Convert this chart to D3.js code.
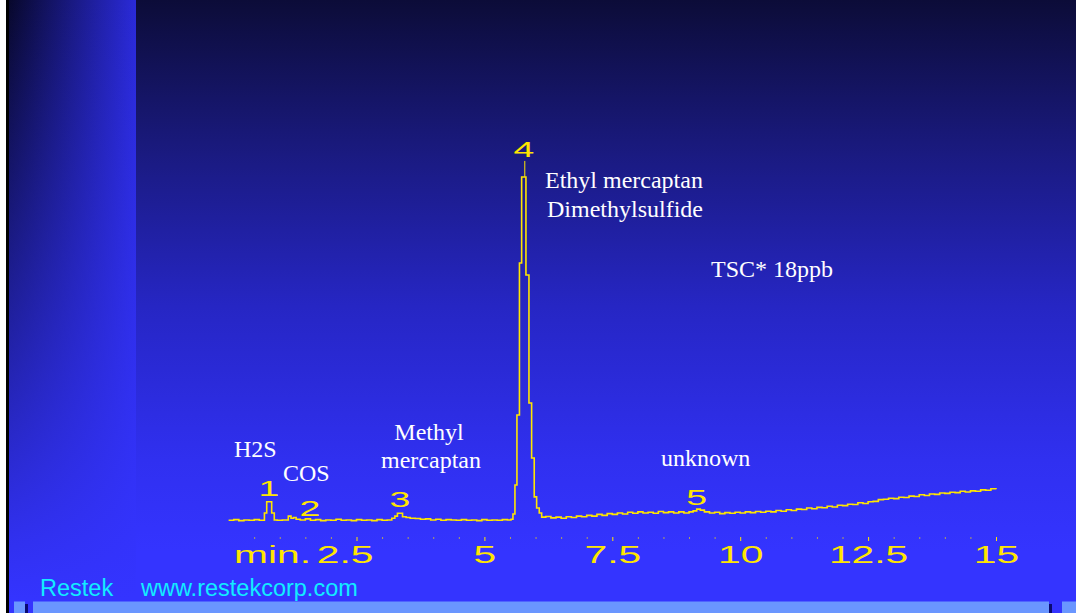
<!DOCTYPE html>
<html>
<head>
<meta charset="utf-8">
<script src="https://cdn.jsdelivr.net/npm/d3@7"></script>
<style>
  html, body { margin: 0; padding: 0; background: #3333ff; }
  svg { display: block; }
</style>
</head>
<body>
<svg id="chart" width="1076" height="613"></svg>
<script>
// ---- DATA ----
// [retention time (min), detector signal (relative %)]
const trace = [
  [0.00,0.2],[0.10,0.4],[0.20,0.1],[0.30,0.3],[0.40,0.2],[0.50,0.4],[0.60,0.2],
  [0.70,2.3],[0.745,5.5],[0.842,2.3],[0.893,0.3],[0.95,0.2],[1.05,0.3],
  [1.167,1.4],[1.22,0.8],[1.27,1.0],[1.32,0.5],[1.40,0.3],[1.50,0.6],[1.60,0.2],[1.70,0.4],
  [1.80,0.1],[1.90,0.3],[2.00,0.2],[2.10,0.5],[2.20,0.2],[2.30,0.3],[2.40,0.1],[2.50,0.4],
  [2.60,0.2],[2.70,0.3],[2.80,0.1],[2.90,0.4],[3.00,0.2],[3.10,0.3],
  [3.19,0.8],[3.25,1.4],[3.30,2.2],[3.40,1.2],[3.47,1.0],[3.55,0.8],[3.65,0.7],[3.75,0.5],
  [3.85,0.6],[3.95,0.3],[4.05,0.5],[4.15,0.2],[4.25,0.4],[4.35,0.3],[4.45,0.2],[4.55,0.4],
  [4.65,0.2],[4.75,0.3],[4.85,0.1],[4.95,0.4],[5.05,0.2],[5.15,0.3],[5.25,0.2],[5.35,0.4],[5.45,0.3],
  [5.52,0.5],[5.558,2.0],[5.597,10.3],[5.636,30.3],[5.685,73.7],[5.728,98.3],[5.812,70.3],
  [5.871,33.7],[5.923,18.0],[5.974,6.9],[6.021,3.7],[6.072,2.3],[6.119,1.1],
  [6.20,1.3],[6.30,0.9],[6.40,1.1],[6.50,0.8],[6.60,1.2],[6.70,1.0],[6.80,1.4],[6.90,1.2],
  [7.00,1.6],[7.10,1.4],[7.20,1.9],[7.30,1.6],[7.40,2.1],[7.50,1.9],[7.60,2.3],[7.70,2.0],
  [7.80,2.5],[7.90,2.2],[8.00,2.6],[8.10,2.3],[8.20,2.5],[8.30,2.2],[8.40,2.7],[8.50,2.4],
  [8.60,2.6],[8.70,2.3],[8.80,2.6],[8.90,2.3],[9.00,2.6],
  [9.08,2.9],[9.15,3.4],[9.22,3.1],[9.30,2.6],[9.40,2.3],[9.50,2.5],[9.60,2.1],[9.70,2.4],
  [9.80,2.2],[9.90,2.5],[10.00,2.3],[10.10,2.6],[10.20,2.4],[10.30,2.7],[10.40,2.5],[10.50,2.8],
  [10.60,2.6],[10.70,3.0],[10.80,2.8],[10.90,3.2],[11.00,3.0],[11.10,3.4],[11.20,3.3],[11.30,3.7],
  [11.40,3.5],[11.50,3.9],[11.60,3.8],[11.70,4.2],[11.80,4.0],[11.90,4.5],[12.00,4.4],[12.10,4.8],
  [12.20,4.7],[12.30,5.2],[12.40,5.0],[12.50,5.5],[12.60,5.6],[12.70,6.1],[12.80,6.2],[12.90,6.5],
  [13.00,6.4],[13.10,6.8],[13.20,6.7],[13.30,7.1],[13.40,7.0],[13.50,7.5],[13.60,7.3],[13.70,7.7],
  [13.80,7.6],[13.90,8.0],[14.00,7.9],[14.10,8.2],[14.20,8.1],[14.30,8.5],[14.40,8.3],[14.50,8.6],
  [14.60,8.5],[14.70,8.9],[14.80,8.8],[14.90,9.2],[15.00,9.1]
];

// peak numbers and the retention times their labels sit over
const peakNumbers = ["1", "2", "3", "4", "5"];
const peakTimes   = [0.79, 1.59, 3.35, 5.77, 9.15];
const peakLabelGap = [6, 3, 6, 20, 4];

// x axis ticks
const minorTicks = d3.range(0.5, 15.001, 0.5);
const majorTicks = [2.5, 5, 7.5, 10, 12.5, 15];
const majorTickLabels = ["2.5", "5", "7.5", "10", "12.5", "15"];
const axisUnitLabel = "min.";

// compound annotations
const compoundLines = ["H2S", "COS", "Methyl", "mercaptan", "Ethyl mercaptan", "Dimethylsulfide", "TSC* 18ppb", "unknown"];
const footerTexts = ["Restek", "www.restekcorp.com"];

// ---- LAYOUT ----
const W = 1076, H = 613;
const svg = d3.select("#chart");
const defs = svg.append("defs");

const gMain = defs.append("linearGradient").attr("id", "gMain")
  .attr("gradientUnits", "userSpaceOnUse").attr("x1", 0).attr("y1", 0).attr("x2", 0).attr("y2", 613);
gMain.append("stop").attr("offset", 0).attr("stop-color", "#0c0c38");
gMain.append("stop").attr("offset", 0.25).attr("stop-color", "#1a1a80");
gMain.append("stop").attr("offset", 0.5).attr("stop-color", "#2626c4");
gMain.append("stop").attr("offset", 0.75).attr("stop-color", "#3030f0");
gMain.append("stop").attr("offset", 0.9).attr("stop-color", "#3434ff");

const gPanelH = defs.append("linearGradient").attr("id", "gPanelH")
  .attr("gradientUnits", "userSpaceOnUse").attr("x1", 9).attr("y1", 0).attr("x2", 136).attr("y2", 0);
gPanelH.append("stop").attr("offset", 0).attr("stop-color", "#08082c");
gPanelH.append("stop").attr("offset", 1).attr("stop-color", "#2a2ad8");

const gPanelV = defs.append("linearGradient").attr("id", "gPanelV")
  .attr("gradientUnits", "userSpaceOnUse").attr("x1", 0).attr("y1", 0).attr("x2", 0).attr("y2", 600);
gPanelV.append("stop").attr("offset", 0).attr("stop-color", "#3434ff").attr("stop-opacity", 0);
gPanelV.append("stop").attr("offset", 0.9).attr("stop-color", "#3434ff").attr("stop-opacity", 0.92);
gPanelV.append("stop").attr("offset", 1).attr("stop-color", "#3434ff").attr("stop-opacity", 1);

svg.append("rect").attr("x", 0).attr("y", 0).attr("width", W).attr("height", H).attr("fill", "url(#gMain)");
svg.append("rect").attr("x", 9).attr("y", 0).attr("width", 127).attr("height", 602).attr("fill", "url(#gPanelH)");
svg.append("rect").attr("x", 9).attr("y", 0).attr("width", 127).attr("height", 602).attr("fill", "url(#gPanelV)");
svg.append("rect").attr("x", 0).attr("y", 0).attr("width", 6).attr("height", H).attr("fill", "#ffffff");
svg.append("rect").attr("x", 6).attr("y", 0).attr("width", 3).attr("height", H).attr("fill", "#000000");

// bottom bar
const barY = 601.5;
svg.append("rect").attr("x", 14).attr("y", barY).attr("width", 11).attr("height", H - barY).attr("fill", "#6a96ff");
svg.append("rect").attr("x", 25).attr("y", 604).attr("width", 3).attr("height", H - 604).attr("fill", "#0a0a70");
svg.append("rect").attr("x", 33).attr("y", barY).attr("width", 1016).attr("height", H - barY).attr("fill", "#6a96ff");
svg.append("rect").attr("x", 1049).attr("y", 604).attr("width", 3).attr("height", H - 604).attr("fill", "#0a0a70");
svg.append("rect").attr("x", 1062).attr("y", barY).attr("width", 14).attr("height", H - barY).attr("fill", "#6a96ff");

// ---- SCALES ----
const x = d3.scaleLinear().domain([0, 15]).range([228.6, 996]);
const y = d3.scaleLinear().domain([0, 100]).range([521, 171]);

const YEL = "#ffe600";
const STRETCH = 1.7;

// ---- AXIS ----
const axisY = 537;
const isMajor = d => majorTicks.some(m => Math.abs(m - d) < 1e-6);
const axis = d3.axisBottom(x).tickValues(minorTicks).tickSize(2).tickPadding(0)
  .tickFormat(d => {
    const i = majorTicks.findIndex(m => Math.abs(m - d) < 1e-6);
    return i >= 0 ? majorTickLabels[i] : "";
  });
const gAxis = svg.append("g").attr("transform", `translate(0,${axisY})`).call(axis);
gAxis.select(".domain").remove();
gAxis.selectAll(".tick line")
  .attr("stroke", YEL)
  .attr("stroke-opacity", d => isMajor(d) ? 1 : 0.6)
  .attr("y2", d => isMajor(d) ? 4 : 2);
gAxis.selectAll(".tick text")
  .attr("fill", YEL)
  .attr("y", 26).attr("dy", null)
  .attr("x", d => Math.abs(d - 2.5) < 1e-6 ? -7 : 0)
  .attr("font-family", "'Liberation Sans', Arial, sans-serif")
  .attr("font-size", 24)
  .attr("transform", `scale(${STRETCH},1)`);
svg.append("text")
  .attr("transform", `translate(234,${axisY + 26}) scale(${STRETCH},1)`)
  .attr("font-family", "'Liberation Sans', Arial, sans-serif")
  .attr("font-size", 24).attr("fill", YEL)
  .text(axisUnitLabel);

// ---- TRACE ----
const line = d3.line().x(d => x(d[0])).y(d => y(d[1])).curve(d3.curveStepAfter);
svg.append("path").datum(trace)
  .attr("d", line)
  .attr("fill", "none")
  .attr("stroke", YEL)
  .attr("stroke-width", 1.6)
  .attr("stroke-linejoin", "miter");

// ---- PEAK LABELS ----
function apexValue(t) {
  const near = trace.filter(d => Math.abs(d[0] - t) < 0.12);
  return d3.max(near, d => d[1]);
}
peakNumbers.forEach((n, i) => {
  const t = peakTimes[i];
  const yTop = y(apexValue(t));
  const ly = yTop - peakLabelGap[i];
  svg.append("text")
    .attr("transform", `translate(${x(t)},${ly}) scale(${STRETCH},1)`)
    .attr("text-anchor", "middle")
    .attr("font-family", "'Liberation Sans', Arial, sans-serif")
    .attr("font-size", 22).attr("fill", YEL)
    .text(n);
  if (n === "4") {
    svg.append("line")
      .attr("x1", x(t) + 1).attr("x2", x(t) + 1)
      .attr("y1", ly + 4).attr("y2", yTop)
      .attr("stroke", YEL).attr("stroke-width", 1);
  }
});

// ---- ANNOTATIONS ----
const serif = "'Liberation Serif', 'Times New Roman', serif";
const annPos = [
  [234, 457, "start"], [283, 481, "start"], [429, 440, "middle"], [431, 468, "middle"],
  [545, 188, "start"], [547, 217, "start"], [711, 277, "start"], [661, 466, "start"]
];
compoundLines.forEach((txt, i) => {
  svg.append("text")
    .attr("x", annPos[i][0]).attr("y", annPos[i][1])
    .attr("text-anchor", annPos[i][2])
    .attr("font-family", serif).attr("font-size", 24)
    .attr("fill", "#ffffff")
    .text(txt);
});

// ---- FOOTER ----
const footPos = [40, 141];
footerTexts.forEach((txt, i) => {
  svg.append("text")
    .attr("x", footPos[i]).attr("y", 596)
    .attr("font-family", "'Liberation Sans', Arial, sans-serif")
    .attr("font-size", 23.5).attr("fill", "#12ecff")
    .text(txt);
});
</script>
</body>
</html>
